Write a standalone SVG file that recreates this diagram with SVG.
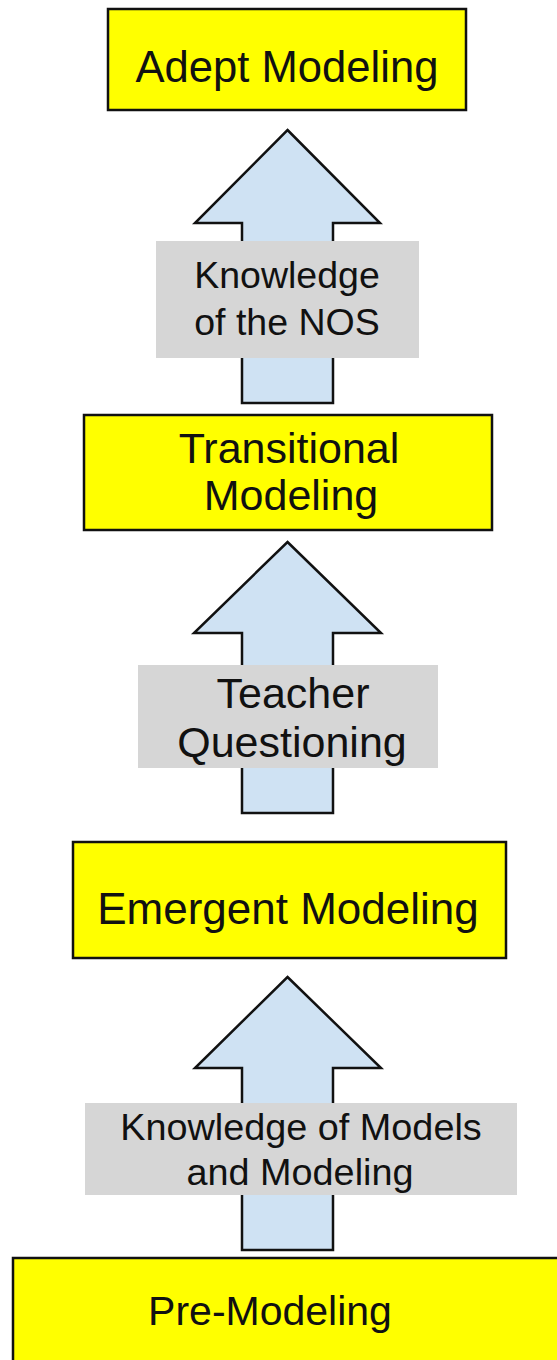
<svg xmlns="http://www.w3.org/2000/svg" width="557" height="1360" viewBox="0 0 557 1360">
<style>
.box{fill:#ffff00;stroke:#111;stroke-width:2.5}
.arrow{fill:#cfe2f3;stroke:#111;stroke-width:2.5;stroke-linejoin:miter}
.lbl{fill:#d6d6d6;stroke:none}
text{font-family:"Liberation Sans",Arial,sans-serif;fill:#111;text-anchor:middle}
</style>
<rect width="557" height="1360" fill="#fff"/>
<g id="connectors">
<g id="arrow1">
<polygon class="arrow" points="287.5,130 380,223 333,223 333,403 242,403 242,223 195,223"/>
<rect class="lbl" x="156" y="241" width="263" height="117"/>
<text x="287" y="288" font-size="37.5">Knowledge</text>
<text x="287" y="335" font-size="37.5">of the NOS</text>
</g>
<g id="arrow2">
<polygon class="arrow" points="287.5,542 381,633 333,633 333,813 242,813 242,633 194,633"/>
<rect class="lbl" x="138" y="665" width="300" height="103"/>
<text x="293" y="708" font-size="43">Teacher</text>
<text x="292" y="757" font-size="43">Questioning</text>
</g>
<g id="arrow3">
<polygon class="arrow" points="287.5,977 381,1068 333,1068 333,1250 242,1250 242,1068 195,1068"/>
<rect class="lbl" x="85" y="1103" width="432" height="92"/>
<text x="301" y="1140" font-size="37.8">Knowledge of Models</text>
<text x="300" y="1185" font-size="37.8">and Modeling</text>
</g>
</g>
<g id="node-adept">
<rect class="box" x="108" y="9" width="358" height="101"/>
<text x="287" y="82" font-size="43.6">Adept Modeling</text>
</g>
<g id="node-transitional">
<rect class="box" x="84" y="415" width="408" height="115"/>
<text x="289" y="463" font-size="43">Transitional</text>
<text x="291" y="510" font-size="43">Modeling</text>
</g>
<g id="node-emergent">
<rect class="box" x="73" y="842" width="433" height="116"/>
<text x="288" y="924" font-size="44">Emergent Modeling</text>
</g>
<g id="node-pre">
<rect class="box" x="13" y="1258" width="560" height="120"/>
<text x="270" y="1325" font-size="41">Pre-Modeling</text>
</g>
</svg>
